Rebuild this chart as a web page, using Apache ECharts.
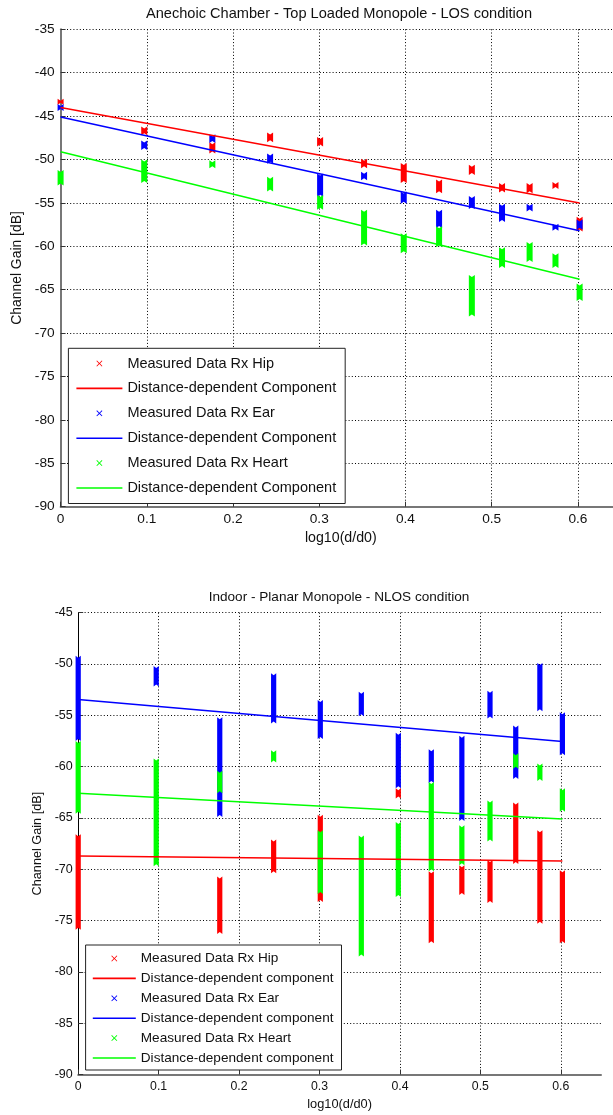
<!DOCTYPE html>
<html><head><meta charset="utf-8">
<script src="https://cdn.jsdelivr.net/npm/echarts/dist/echarts.min.js"></script>
<style>html,body{margin:0;padding:0;background:#fff}#c{width:613px;height:1115px}</style>
</head><body><div id="c"></div>
<script>
// ---------- data ----------
const xPos = [0, 0.097, 0.176, 0.243, 0.301, 0.352, 0.398, 0.439, 0.477, 0.512, 0.544, 0.574, 0.602];
const fitX = [0, 0.602];

// Top chart: Anechoic chamber (measured value ranges: high / low, dB)
const topHipHigh   = [-43.0, -46.2, -48.0, -46.9, -47.4, -49.9, -50.4, -52.3, -50.6, -52.7, -52.7, -52.6, -56.6];
const topHipLow    = [-43.7, -47.2, -49.3, -48.0, -48.5, -51.0, -52.7, -53.9, -51.8, -53.8, -53.9, -53.4, -58.3];
const topEarHigh   = [-43.6, -47.8, -47.1, -49.3, -51.6, -51.4, -53.7, -55.8, -54.2, -55.1, -55.1, -57.4, -56.9];
const topEarLow    = [-44.4, -48.9, -48.1, -50.5, -54.3, -52.4, -55.1, -57.9, -55.7, -57.2, -56.0, -58.2, -58.1];
const topHeartHigh = [-51.2, -50.0, -50.1, -52.0, -54.1, -55.8, -58.5, -57.7, -63.3, -60.1, -59.5, -60.8, -64.3];
const topHeartLow  = [-53.0, -52.7, -51.0, -53.7, -55.8, -59.9, -60.8, -60.1, -68.1, -62.5, -61.8, -62.5, -66.3];
const topHipFit    = [-44.0, -55.0];
const topEarFit    = [-45.1, -58.2];
const topHeartFit  = [-49.1, -63.8];

// Bottom chart: Indoor
const botHipHigh   = [-66.6, null, -70.7, -67.1, -64.7, null, -62.1, -70.2, -69.6, -69.1, -63.5, -66.2, -70.1];
const botHipLow    = [-75.9, null, -76.3, -70.4, -73.2, null, -63.1, -77.2, -72.5, -73.3, -69.5, -75.3, -77.2];
const botEarHigh   = [-49.2, -50.2, -55.2, -50.9, -53.5, -52.7, -56.7, -58.3, -57.0, -52.6, -56.0, -49.9, -54.7];
const botEarLow    = [-57.5, -52.2, -64.9, -55.8, -57.3, -55.1, -62.1, -61.6, -65.3, -55.3, -61.2, -54.6, -58.9];
const botHeartHigh = [-57.5, -59.2, -60.4, -58.4, -66.2, -66.7, -65.4, -61.5, -65.7, -63.3, -58.7, -59.7, -62.1];
const botHeartLow  = [-64.6, -69.7, -62.6, -59.6, -72.4, -78.5, -72.7, -70.2, -69.6, -67.3, -60.2, -61.4, -64.4];
const botHipFit    = [-68.7, -69.2];
const botEarFit    = [-53.45, -57.55];
const botHeartFit  = [-62.6, -65.1];

const titles = ['Anechoic Chamber - Top Loaded Monopole - LOS condition', 'Indoor - Planar Monopole - NLOS condition'];
const xName = 'log10(d/d0)';
const yName = 'Channel Gain [dB]';
const labelsTop = ['Measured Data Rx Hip', 'Distance-dependent Component', 'Measured Data Rx Ear', 'Distance-dependent Component', 'Measured Data Rx Heart', 'Distance-dependent Component'];
const labelsBot = ['Measured Data Rx Hip', 'Distance-dependent component', 'Measured Data Rx Ear', 'Distance-dependent component', 'Measured Data Rx Heart', 'Distance-dependent component'];

// ---------- rendering ----------
const RED = '#ff0000', BLUE = '#0000ff', GREEN = '#00ff00';
const FONT = "'Liberation Sans', Arial, Helvetica, sans-serif";
const XICON = 'path://M0,1L1,0L5,4L9,0L10,1L6,5L10,9L9,10L5,6L1,10L0,9L4,5Z';

function ranges(hi, lo) {
  const out = [];
  xPos.forEach((x, i) => { if (hi[i] != null) out.push([x, hi[i], lo[i]]); });
  return out;
}
function rangeRender(half, notch) {
  return function (params, api) {
    const x = api.value(0), hi = api.value(1), lo = api.value(2);
    const a = api.coord([x, hi]), b = api.coord([x, lo]);
    const cx = a[0], yt = a[1], yb = b[1];
    return {
      type: 'polygon',
      shape: { points: [[cx - half, yt], [cx, yt + notch], [cx + half, yt], [cx + half, yb], [cx, yb - notch], [cx - half, yb]] },
      style: { fill: api.visual('color') }
    };
  };
}
function measSeries(id, gi, color, hi, lo, half) {
  return {
    id: id, name: id, type: 'custom', xAxisIndex: gi, yAxisIndex: gi,
    itemStyle: { color: color },
    renderItem: rangeRender(half, 2),
    encode: { x: 0, y: [1, 2] },
    data: ranges(hi, lo), clip: false, silent: true
  };
}
function fitSeries(id, gi, color, vals) {
  return {
    id: id, name: id, type: 'line', xAxisIndex: gi, yAxisIndex: gi,
    symbol: 'none', lineStyle: { color: color, width: 1.5 }, itemStyle: { color: color },
    data: fitX.map((x, i) => [x, vals[i]]), silent: true
  };
}
const nameMap = {
  tHip: labelsTop[0], tHipFit: labelsTop[1], tEar: labelsTop[2], tEarFit: labelsTop[3], tHeart: labelsTop[4], tHeartFit: labelsTop[5],
  bHip: labelsBot[0], bHipFit: labelsBot[1], bEar: labelsBot[2], bEarFit: labelsBot[3], bHeart: labelsBot[4], bHeartFit: labelsBot[5]
};
function xLabel(v) {
  const r = Math.round(v * 10);
  if (Math.abs(v * 10 - r) > 1e-6) return '';
  return r === 0 ? '0' : (r / 10).toFixed(1);
}
function makeX(gi, max, fs, lblMargin, nameGap, axisColor) {
  return {
    type: 'value', gridIndex: gi, min: 0, max: max, interval: 0.1,
    name: xName, nameLocation: 'middle', nameGap: nameGap,
    nameTextStyle: { fontFamily: FONT, fontSize: fs + 0.5, color: '#111' },
    axisLine: { show: true, onZero: false, lineStyle: { color: axisColor, width: 2 } },
    axisTick: { show: true, inside: true, length: 5, lineStyle: { color: '#333', width: 1 } },
    axisLabel: { formatter: xLabel, fontFamily: FONT, fontSize: fs, color: '#111', margin: lblMargin, showMaxLabel: false },
    splitLine: { show: true, showMaxLine: false, lineStyle: { color: '#000', width: 1, type: [1, 2.2] } }
  };
}
function makeY(gi, min, max, fs, lblMargin, nameGap, axisColor, axisWidth) {
  return {
    type: 'value', gridIndex: gi, min: min, max: max, interval: 5,
    name: yName, nameLocation: 'middle', nameGap: nameGap,
    nameTextStyle: { fontFamily: FONT, fontSize: fs + 0.2, color: '#111' },
    axisLine: { show: true, onZero: false, lineStyle: { color: axisColor, width: axisWidth } },
    axisTick: { show: true, inside: true, length: 5, lineStyle: { color: '#333', width: 1 } },
    axisLabel: { fontFamily: FONT, fontSize: fs, color: '#111', margin: lblMargin },
    splitLine: { show: true, lineStyle: { color: '#000', width: 1, type: [1, 2.2] } }
  };
}
function makeLegend(ids, left, top, iw, gap, fs, pad) {
  const lineIcon = 'path://M0,0H' + iw + 'V1.6H0Z';
  return {
    orient: 'vertical', left: left, top: top, itemWidth: iw, itemHeight: 6, itemGap: gap,
    padding: pad, borderColor: '#222', borderWidth: 1, backgroundColor: '#fff', borderRadius: 0,
    selectedMode: false, inactiveColor: '#000',
    textStyle: { fontFamily: FONT, fontSize: fs, color: '#111' },
    formatter: n => nameMap[n],
    data: ids.map((id, i) => ({ name: id, icon: i % 2 === 0 ? XICON : lineIcon }))
  };
}

const option = {
  animation: false,
  backgroundColor: '#fff',
  title: [
    { text: titles[0], left: 339, top: 6, textAlign: 'center', padding: 0,
      textStyle: { fontFamily: FONT, fontSize: 14.6, fontWeight: 'normal', color: '#111' } },
    { text: titles[1], left: 339, top: 590, textAlign: 'center', padding: 0,
      textStyle: { fontFamily: FONT, fontSize: 13.6, fontWeight: 'normal', color: '#111' } }
  ],
  grid: [
    { left: 60.6, right: -8, top: 29.3, bottom: 608.3, containLabel: false, outerBoundsMode: 'none' },
    { left: 78.2, right: 12, top: 612.7, bottom: 40.5, containLabel: false, outerBoundsMode: 'none' }
  ],
  xAxis: [
    makeX(0, 0.65, 13.7, 5.6, 24.5, '#777'),
    makeX(1, 0.65, 12.3, 6, 23.3, '#777')
  ],
  yAxis: [
    makeY(0, -90, -35, 13.7, 6, 34, '#777', 2),
    makeY(1, -90, -45, 12.5, 5.5, 32, '#000', 1)
  ],
  legend: [
    makeLegend(['tHip', 'tHipFit', 'tEar', 'tEarFit', 'tHeart', 'tHeartFit'], 68.4, 348.3, 46, 9.9, 14.5, [7.7, 9, 8, 8]),
    makeLegend(['bHip', 'bHipFit', 'bEar', 'bEarFit', 'bHeart', 'bHeartFit'], 85.6, 945, 43, 5.9, 13.6, [6.5, 8, 5, 7.2])
  ],
  series: [
    measSeries('tHip', 0, RED, topHipHigh, topHipLow, 3),
    fitSeries('tHipFit', 0, RED, topHipFit),
    measSeries('tEar', 0, BLUE, topEarHigh, topEarLow, 3),
    fitSeries('tEarFit', 0, BLUE, topEarFit),
    measSeries('tHeart', 0, GREEN, topHeartHigh, topHeartLow, 3),
    fitSeries('tHeartFit', 0, GREEN, topHeartFit),
    measSeries('bHip', 1, RED, botHipHigh, botHipLow, 2.6),
    fitSeries('bHipFit', 1, RED, botHipFit),
    measSeries('bEar', 1, BLUE, botEarHigh, botEarLow, 2.6),
    fitSeries('bEarFit', 1, BLUE, botEarFit),
    measSeries('bHeart', 1, GREEN, botHeartHigh, botHeartLow, 2.6),
    fitSeries('bHeartFit', 1, GREEN, botHeartFit)
  ]
};
const chart = echarts.init(document.getElementById('c'), null, { renderer: 'canvas' });
chart.setOption(option);
</script>
</body></html>
